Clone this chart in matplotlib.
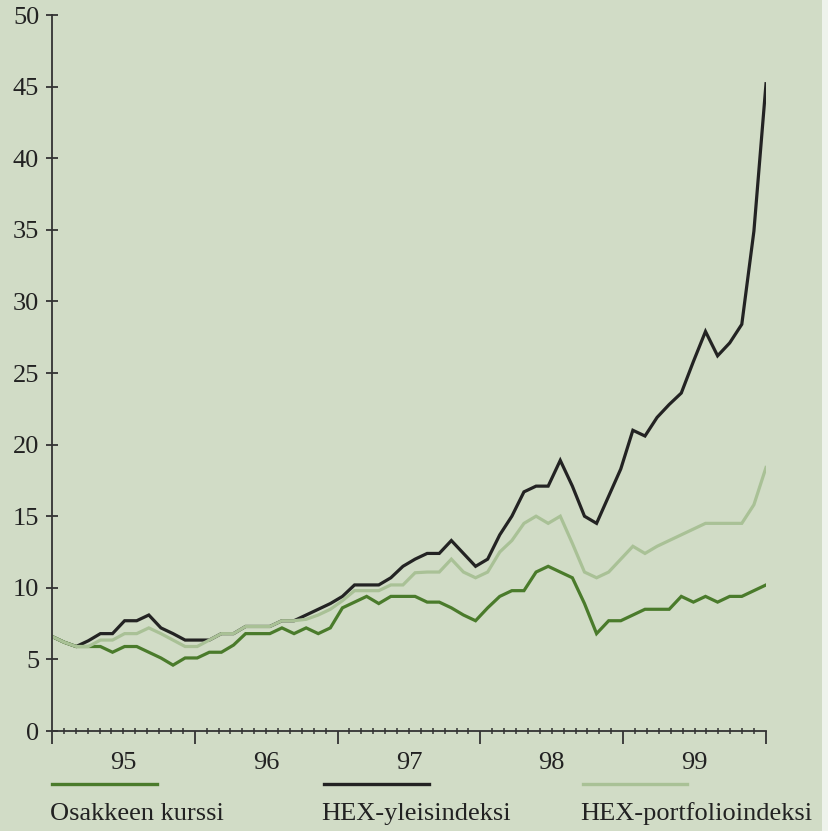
import numpy as np
import matplotlib
matplotlib.use("Agg")
import matplotlib.pyplot as plt
from matplotlib.lines import Line2D
from matplotlib.patches import Rectangle

# monthly values 1995-1999
osake = [6.6, 6.2, 5.9, 5.9, 5.9, 5.5, 5.9, 5.9, 5.5, 5.1, 4.6, 5.1, 5.1, 5.5, 5.5,
         6.0, 6.8, 6.8, 6.8, 7.2, 6.8, 7.2, 6.8, 7.2, 8.6, 9.0, 9.4, 8.9, 9.4, 9.4,
         9.4, 9.0, 9.0, 8.6, 8.1, 7.7, 8.6, 9.4, 9.8, 9.8, 11.1, 11.5, 11.1, 10.7, 8.9,
         6.8, 7.7, 7.7, 8.1, 8.5, 8.5, 8.5, 9.4, 9.0, 9.4, 9.0, 9.4, 9.4, 9.8, 10.2]
hex_yleis = [6.6, 6.2, 5.9, 6.3, 6.8, 6.8, 7.7, 7.7, 8.1, 7.2, 6.8, 6.35, 6.35, 6.35, 6.8,
             6.8, 7.3, 7.3, 7.3, 7.7, 7.7, 8.1, 8.5, 8.9, 9.4, 10.2, 10.2, 10.2, 10.7, 11.5,
             12.0, 12.4, 12.4, 13.3, 12.4, 11.5, 12.0, 13.7, 15.0, 16.7, 17.1, 17.1, 18.9, 17.1, 15.0,
             14.5, 16.4, 18.3, 21.0, 20.6, 21.9, 22.8, 23.6, 25.8, 27.9, 26.2, 27.1, 28.4, 34.9, 45.2]
hex_portf = [6.6, 6.2, 5.9, 5.9, 6.35, 6.35, 6.8, 6.8, 7.2, 6.8, 6.35, 5.9, 5.9, 6.35, 6.8,
             6.8, 7.3, 7.3, 7.3, 7.7, 7.7, 7.8, 8.1, 8.5, 9.1, 9.8, 9.8, 9.8, 10.2, 10.2,
             11.05, 11.1, 11.1, 12.0, 11.1, 10.7, 11.1, 12.5, 13.3, 14.5, 15.0, 14.5, 15.0, 13.1, 11.1,
             10.7, 11.1, 12.0, 12.9, 12.4, 12.9, 13.3, 13.7, 14.1, 14.5, 14.5, 14.5, 14.5, 15.8, 18.4]
years = ["95", "96", "97", "98", "99"]
labels = ["Osakkeen kurssi", "HEX-yleisindeksi", "HEX-portfolioindeksi"]

bg = "#d1dcc6"
c_green = "#4a7b2b"
c_black = "#232323"
c_light = "#a9c196"
c_axis = "#333333"
fs = 19

plt.rcParams['font.family'] = ['Liberation Serif', 'DejaVu Serif']

fig = plt.figure(figsize=(8.29, 8.31), dpi=100, facecolor=bg)
fig.add_artist(Rectangle((822 / 829, 0), 7 / 829, 1, transform=fig.transFigure,
                         facecolor="#eef3ec", edgecolor="none"))
ax = fig.add_axes([52 / 829, 100 / 831, 714 / 829, 716 / 831])
ax.set_facecolor(bg)

x = np.linspace(0, 60, len(osake))
ax.plot(x, hex_yleis, color=c_black, lw=2.3, solid_joinstyle='miter')
ax.plot(x, osake, color=c_green, lw=2.3, solid_joinstyle='miter')
ax.plot(x, hex_portf, color=c_light, lw=2.3, solid_joinstyle='miter')

ax.set_xlim(0, 60)
ax.set_ylim(0, 50)
for s in ["top", "right"]:
    ax.spines[s].set_visible(False)
for s in ["left", "bottom"]:
    ax.spines[s].set_color(c_axis)
    ax.spines[s].set_linewidth(1.3)

ax.set_yticks(np.arange(0, 51, 5))
ax.tick_params(axis='y', direction='inout', length=8.5, width=1.3, color=c_axis,
               labelsize=fs, labelcolor="#222222", pad=5)

ax.set_xticks(np.arange(0, 61, 12))
ax.set_xticklabels([])
ax.set_xticks([m for m in range(1, 60) if m % 12], minor=True)
ax.tick_params(axis='x', which='major', direction='out', length=9.5, width=1.3, color=c_axis)
ax.tick_params(axis='x', which='minor', direction='inout', length=4.5, width=1.1, color=c_axis)

for i, yr in enumerate(years):
    ax.text(6 + 12 * i, -2.25, yr, ha='center', va='center', fontsize=fs,
            color="#222222", transform=ax.transData, clip_on=False)

# legend below the axis
leg_x = [(52, 157), (324, 429), (583, 687)]
leg_c = [c_green, c_black, c_light]
for (x0, x1), c, lab in zip(leg_x, leg_c, labels):
    fig.add_artist(Line2D([x0 / 829, x1 / 829], [1 - 784 / 831, 1 - 784 / 831],
                          transform=fig.transFigure, color=c, lw=2.4))
    fig.text(x0 / 829 - 0.003, 1 - 814 / 831, lab, ha='left', va='center',
             fontsize=fs, color="#222222")

fig.savefig("out.png", dpi=100, facecolor=bg)
